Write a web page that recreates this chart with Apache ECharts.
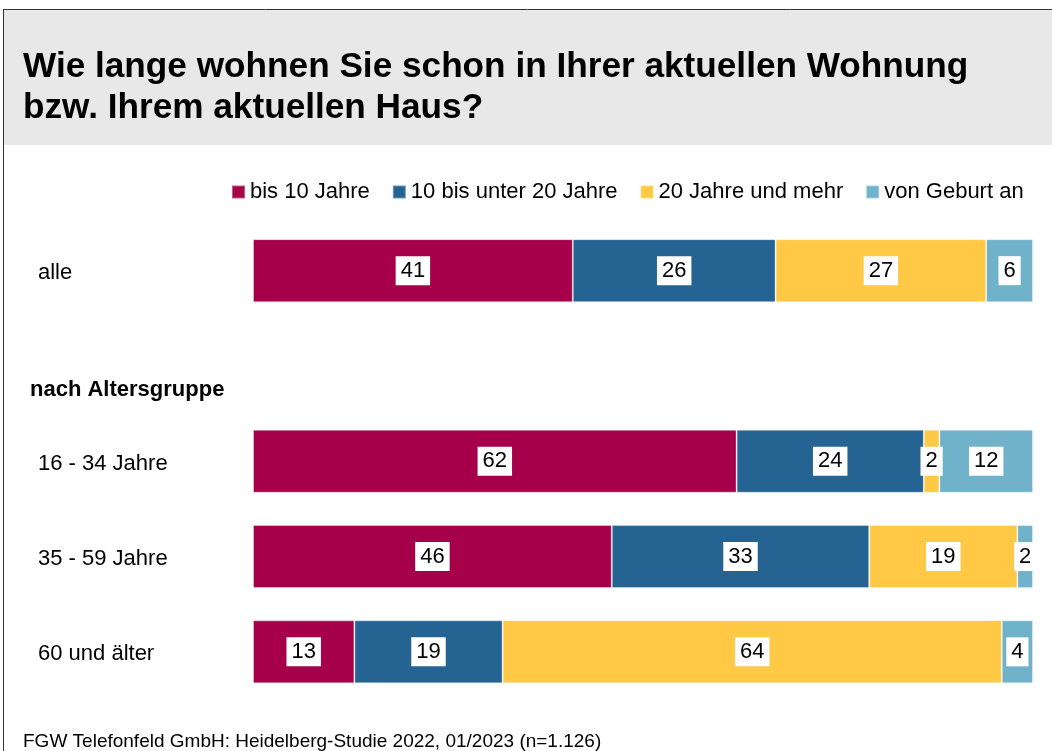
<!DOCTYPE html>
<html>
<head>
<meta charset="utf-8">
<script src="https://cdn.jsdelivr.net/npm/echarts@6/dist/echarts.min.js"></script>
<style>html,body{margin:0;padding:0;background:#fff}#c{width:1052px;height:751px}</style>
</head>
<body>
<div id="c"></div>
<script>
const categories = ['alle', '', '16 - 34 Jahre', '35 - 59 Jahre', '60 und älter'];
const seriesNames = ['bis 10 Jahre', '10 bis unter 20 Jahre', '20 Jahre und mehr', 'von Geburt an'];
const bis10 = [41, '-', 62, 46, 13];
const bis20 = [26, '-', 24, 33, 19];
const ab20 = [27, '-', 2, 19, 64];
const geburt = [6, '-', 12, 2, 4];
const colors = ['#a6004a', '#246392', '#ffc845', '#70b2c9'];
const titleText = 'Wie lange wohnen Sie schon in Ihrer aktuellen Wohnung\nbzw. Ihrem aktuellen Haus?';
const groupLabel = 'nach Altersgruppe';
const sourceText = 'FGW Telefonfeld GmbH: Heidelberg-Studie 2022, 01/2023 (n=1.126)';

const FONT = '"Liberation Sans", Arial, sans-serif';
const chart = echarts.init(document.getElementById('c'), null, {renderer: 'canvas'});
const values = [bis10, bis20, ab20, geburt];

chart.setOption({
  animation: false,
  textStyle: {fontFamily: FONT},
  title: {
    text: titleText, left: 23, top: 47, padding: 0,
    textStyle: {fontFamily: FONT, fontSize: 35.2, fontWeight: 'bold', color: '#000', lineHeight: 41}
  },
  graphic: [
    {type: 'rect', z: -10, shape: {x: 3, y: 10, width: 1049, height: 135}, style: {fill: '#e8e8e8'}},
    {type: 'line', shape: {x1: 3, y1: 9.5, x2: 1052, y2: 9.5}, style: {stroke: '#333', lineWidth: 1}},
    {type: 'line', shape: {x1: 3.5, y1: 9, x2: 3.5, y2: 751}, style: {stroke: '#333', lineWidth: 1}},
    {type: 'text', left: 30, top: 379, style: {text: groupLabel, font: 'bold 22px ' + FONT, fill: '#000'}},
    {type: 'text', left: 23, top: 732, style: {text: sourceText, font: '19px ' + FONT, fill: '#000'}}
  ],
  legend: {
    left: 226, top: 176, itemWidth: 13, itemHeight: 13, itemGap: 22, icon: 'rect',
    data: seriesNames,
    textStyle: {fontSize: 22, color: '#000', fontFamily: FONT}
  },
  grid: {left: 253, right: 19, top: 223, bottom: 51.5},
  xAxis: {type: 'value', min: 0, max: 100, show: false},
  yAxis: {
    type: 'category', inverse: true, data: categories,
    axisLine: {show: false}, axisTick: {show: false},
    axisLabel: {
      align: 'left', margin: 215, color: '#000', fontFamily: FONT, fontSize: 22,
      formatter: v => v ? '{a|' + v + '}' : '',
      rich: {a: {fontSize: 22, color: '#000', fontFamily: FONT, padding: [5, 0, 0, 0]}}
    }
  },
  series: seriesNames.map((n, i) => ({
    name: n, type: 'bar', stack: 'total', barWidth: 63,
    data: values[i],
    itemStyle: {color: colors[i], borderColor: 'rgba(255,255,255,0.35)', borderWidth: 1},
    label: {
      show: true, position: 'inside', formatter: '{c}',
      backgroundColor: '#fff', color: '#000', fontSize: 22, fontFamily: FONT,
      padding: [4, 5, 3, 5]
    }
  }))
});
</script>
</body>
</html>
